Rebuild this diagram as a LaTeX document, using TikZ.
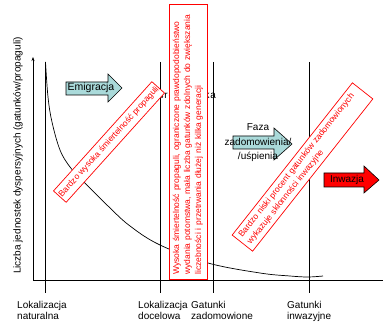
\documentclass[tikz,border=0pt]{standalone}
\usepackage{fontspec}
\setmainfont{Liberation Sans}
\usetikzlibrary{arrows.meta}
\definecolor{tealfill}{RGB}{170,218,218}
\begin{document}
\begin{tikzpicture}[x=1pt,y=-1pt,
  axisline/.style={line width=0.6pt,black},
  redbox/.style={draw=red,fill=white,line width=0.7pt,text=red,inner sep=0pt},
  smalltxt/.style={font=\fontsize{8.5}{11}\selectfont},
  lbl/.style={font=\fontsize{10}{10.5}\selectfont,align=left,inner sep=0pt,anchor=base west},
  arrowbox/.style={draw=black,line width=0.6pt}]
\useasboundingbox (0,0) rectangle (383,331);
% axes
\coordinate (yb) at (33,280);
\coordinate (yt) at (33,57);
\coordinate (xr) at (383,280);
\draw[axisline,-{Stealth[length=4pt,width=3pt]}] (yb) -- (yt);
\draw[axisline] (yb) -- (xr);
% vertical lines
\foreach \n/\x in {a/45.5,b/160,c/213,d/309}{
  \coordinate (\n top) at (\x,62);
  \coordinate (\n bot) at (\x,293);
  \draw[axisline] (\n top) -- (\n bot);
}
% curve
\draw[line width=0.7pt] plot[smooth,tension=0.6] coordinates {(45.5,62) (48,97) (52,122) (60,150) (70,167) (83,181) (108,206) (130,226) (160,245) (208,263) (260,273) (290,276) (308,277) (323,276)};
% hidden word behind middle box
\node[anchor=base west,inner sep=0pt,font=\fontsize{10}{12}\selectfont\addfontfeature{LetterSpace=8}] (srod) at (158.5,98.5) {środowiska};
% emigration arrow
\draw[arrowbox,fill=tealfill] (66,82) -- (108,82) -- (108,74) -- (122,88) -- (108,102) -- (108,95) -- (66,95) -- cycle;
\node[inner sep=0pt,font=\fontsize{10.5}{12}\selectfont] (emig) at (91,88) {Emigracja};
% faza arrow
\draw[arrowbox,fill=tealfill] (233,136) -- (274,136) -- (274,128) -- (292,144) -- (274,160) -- (274,149) -- (233,149) -- cycle;
\node[inner sep=0pt,align=center,font=\fontsize{10}{14.5}\selectfont] (faza) at (258,143) {Faza\\zadomowienia/\\/uśpienia};
% inwazja arrow
\draw[arrowbox,fill=red] (324,173) -- (364,173) -- (364,166) -- (379,180) -- (364,193) -- (364,187) -- (324,187) -- cycle;
\node[inner sep=0pt,font=\fontsize{10}{12}\selectfont] (inw) at (347,180) {Inwazja};
% red boxes
\node[redbox,smalltxt,rotate=48,minimum width=147,minimum height=17] (box1) at (109,142) {Bardzo wysoka śmiertelność propaguli};
\node[redbox,smalltxt,rotate=51.7,minimum width=194,minimum height=26,text width=186,align=left] (box2) at (302.5,167) {Bardzo niski procent gatunków zadomowionych\\wykazuje skłonności inwazyjne};
\node[redbox,smalltxt,rotate=90,minimum width=275,minimum height=38,text width=266,align=left] (box3) at (188,141.5) {Wysoka śmiertelność propaguli, ograniczone prawdopodobieństwo\\wydania potomstwa, mała liczba gatunków zdolnych do zwiększania\\liczebności i przetrwania dłużej niż kilka generacji};
% axis label
\node[rotate=90,inner sep=0pt,font=\fontsize{10}{12}\selectfont] (ylab) at (18,155.5) {Liczba jednostek dyspersyjnych (gatunków/propaguli)};
% bottom labels
\node[lbl] (l1) at (17,319) {Lokalizacja\\naturalna};
\node[lbl] (l2) at (138,319) {Lokalizacja\\docelowa};
\node[lbl] (l3) at (191,319) {Gatunki\\zadomowione};
\node[lbl] (l4) at (287,319) {Gatunki\\inwazyjne};
\end{tikzpicture}
\end{document}
